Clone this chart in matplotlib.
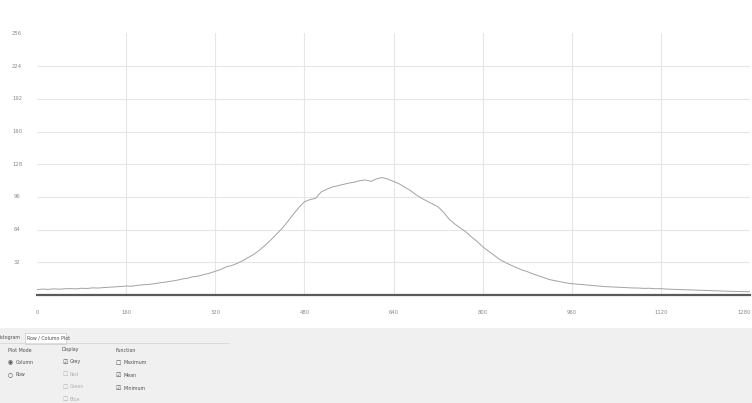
import matplotlib
matplotlib.use("Agg")
import matplotlib.pyplot as plt
from matplotlib.patches import Rectangle
import numpy as np

# ---- data ----
x_start, x_step = 0, 10
profile = [
    5.2, 5.8, 5.5, 6.0, 5.7, 6.1, 6.3, 6.0, 6.6, 6.4,
    7.0, 6.8, 7.3, 7.6, 7.9, 8.3, 8.8, 8.6, 9.4, 10.0,
    10.3, 11.0, 11.9, 12.6, 13.5, 14.3, 15.6, 16.4, 17.9, 18.6,
    20.1, 21.4, 23.2, 25.0, 27.6, 28.9, 31.2, 33.8, 36.9, 40.1,
    44.2, 48.9, 54.0, 59.6, 65.2, 71.8, 79.0, 85.6, 91.2, 93.4,
    94.6, 100.8, 103.5, 105.7, 107.0, 108.4, 109.6, 110.5, 112.0, 112.6,
    111.3, 113.8, 115.0, 113.4, 111.2, 108.9, 105.6, 102.4, 98.3, 94.8,
    92.0, 89.1, 86.3, 81.0, 74.2, 69.5, 65.6, 61.8, 56.9, 52.5,
    47.3, 43.1, 39.2, 35.0, 32.1, 29.4, 27.0, 24.6, 22.9, 20.7,
    18.8, 16.8, 15.1, 14.0, 12.9, 11.8, 11.1, 10.6, 10.0, 9.5,
    9.1, 8.7, 8.2, 8.0, 7.7, 7.4, 7.2, 6.9, 6.8, 6.5,
    6.6, 6.1, 6.2, 5.8, 5.6, 5.4, 5.1, 5.0, 4.7, 4.6,
    4.3, 4.2, 4.0, 3.8, 3.7, 3.5, 3.4, 3.3, 3.2,
]
x_ticks = [0, 160, 320, 480, 640, 800, 960, 1120, 1280]
x_tick_labels = ["0", "160", "320", "480", "640", "800", "960", "1120", "1280"]
y_ticks = [32, 64, 96, 128, 160, 192, 224, 256]
y_tick_labels = ["32", "64", "96", "128", "160", "192", "224", "256"]

plot_mode_items = [("Column", True), ("Row", False)]
display_items = [("Grey", True), ("Red", False), ("Green", False), ("Blue", False)]
function_items = [("Maximum", False), ("Mean", True), ("Minimum", True)]

xs = [x_start + i * x_step for i in range(len(profile))]

W, H = 752, 403
fig = plt.figure(figsize=(W / 100, H / 100), dpi=100)
fig.patch.set_facecolor("white")

def fx(px):
    return px / W

def fy(py):
    return 1 - py / H

ax_left, ax_right, ax_top, ax_bottom = 37, 750, 33, 295
ax = fig.add_axes([fx(ax_left), fy(ax_bottom), (ax_right - ax_left) / W, (ax_bottom - ax_top) / H])
ax.set_facecolor("white")
ax.plot(xs, profile, color="#a2a2a2", lw=0.7)
ax.set_xlim(0, 1280)
ax.set_ylim(0, 256.5)

for t in x_ticks[1:-1]:
    ax.axvline(t, color="#e6e6e6", lw=0.8, zorder=0)
for t in y_ticks[:-1]:
    ax.axhline(t, color="#e6e6e6", lw=0.8, zorder=0)

for s in ["top", "right", "left"]:
    ax.spines[s].set_visible(False)
ax.spines["bottom"].set_color("#5a5a5a")
ax.spines["bottom"].set_linewidth(1.6)
ax.set_xticks([])
ax.set_yticks([])

lab_col = "#8a8a8a"
fs = 3.8
for i, (t, lbl) in enumerate(zip(x_ticks, x_tick_labels)):
    last = i == len(x_ticks) - 1
    ax.text(t + (2 if last else 0), -17, lbl, ha="right" if last else "center", va="center",
            fontsize=fs, color=lab_col, clip_on=False, transform=ax.transData)
for t, lbl in zip(y_ticks, y_tick_labels):
    fig.text(fx(17), fy(ax_bottom - t * (ax_bottom - ax_top) / 256.5), lbl, ha="center", va="center",
             fontsize=fs, color=lab_col)

# ---- bottom control panel ----
fig.patches.append(Rectangle((0, 0), 1, fy(328), transform=fig.transFigure,
                             facecolor="#f0f0f0", edgecolor="none", zorder=0))
fig.lines.append(plt.Line2D([fx(0), fx(228)], [fy(343), fy(343)], transform=fig.transFigure,
                            color="#d8d8d8", lw=0.6))
fig.patches.append(Rectangle((fx(25), fy(344)), fx(41), 11 / H, transform=fig.transFigure,
                             facecolor="white", edgecolor="#c8c8c8", lw=0.5, zorder=1))
pfs = 3.4
pc = "#505050"
fig.text(fx(0), fy(338), "istogram", fontsize=pfs, color=pc, va="center", ha="left")
fig.text(fx(27), fy(338), "Row / Column Plot", fontsize=pfs, color=pc, va="center", ha="left", zorder=2)

def checkbox(px, py, label, checked, enabled=True, radio=False):
    col = pc if enabled else "#b0b0b0"
    mark = ("\u25c9" if checked else "\u25cb") if radio else ("\u2611" if checked else "\u2610")
    fig.text(fx(px), fy(py), mark, fontsize=4.2, color=col, va="center", ha="left")
    fig.text(fx(px + 8), fy(py), label, fontsize=pfs, color=col, va="center", ha="left")

fig.text(fx(8), fy(350), "Plot Mode", fontsize=pfs, color=pc, va="center", ha="left")
for i, (lbl, on) in enumerate(plot_mode_items):
    checkbox(8, 362 + i * 12.5, lbl, on, radio=True)

fig.text(fx(62), fy(350), "Display", fontsize=pfs, color=pc, va="center", ha="left")
for i, (lbl, on) in enumerate(display_items):
    checkbox(62, 362 + i * 12.5, lbl, on, enabled=(i == 0))

fig.text(fx(115), fy(350), "Function", fontsize=pfs, color=pc, va="center", ha="left")
for i, (lbl, on) in enumerate(function_items):
    checkbox(115, 363 + i * 12.5, lbl, on)

fig.savefig("out.png", dpi=100, facecolor=fig.get_facecolor())
